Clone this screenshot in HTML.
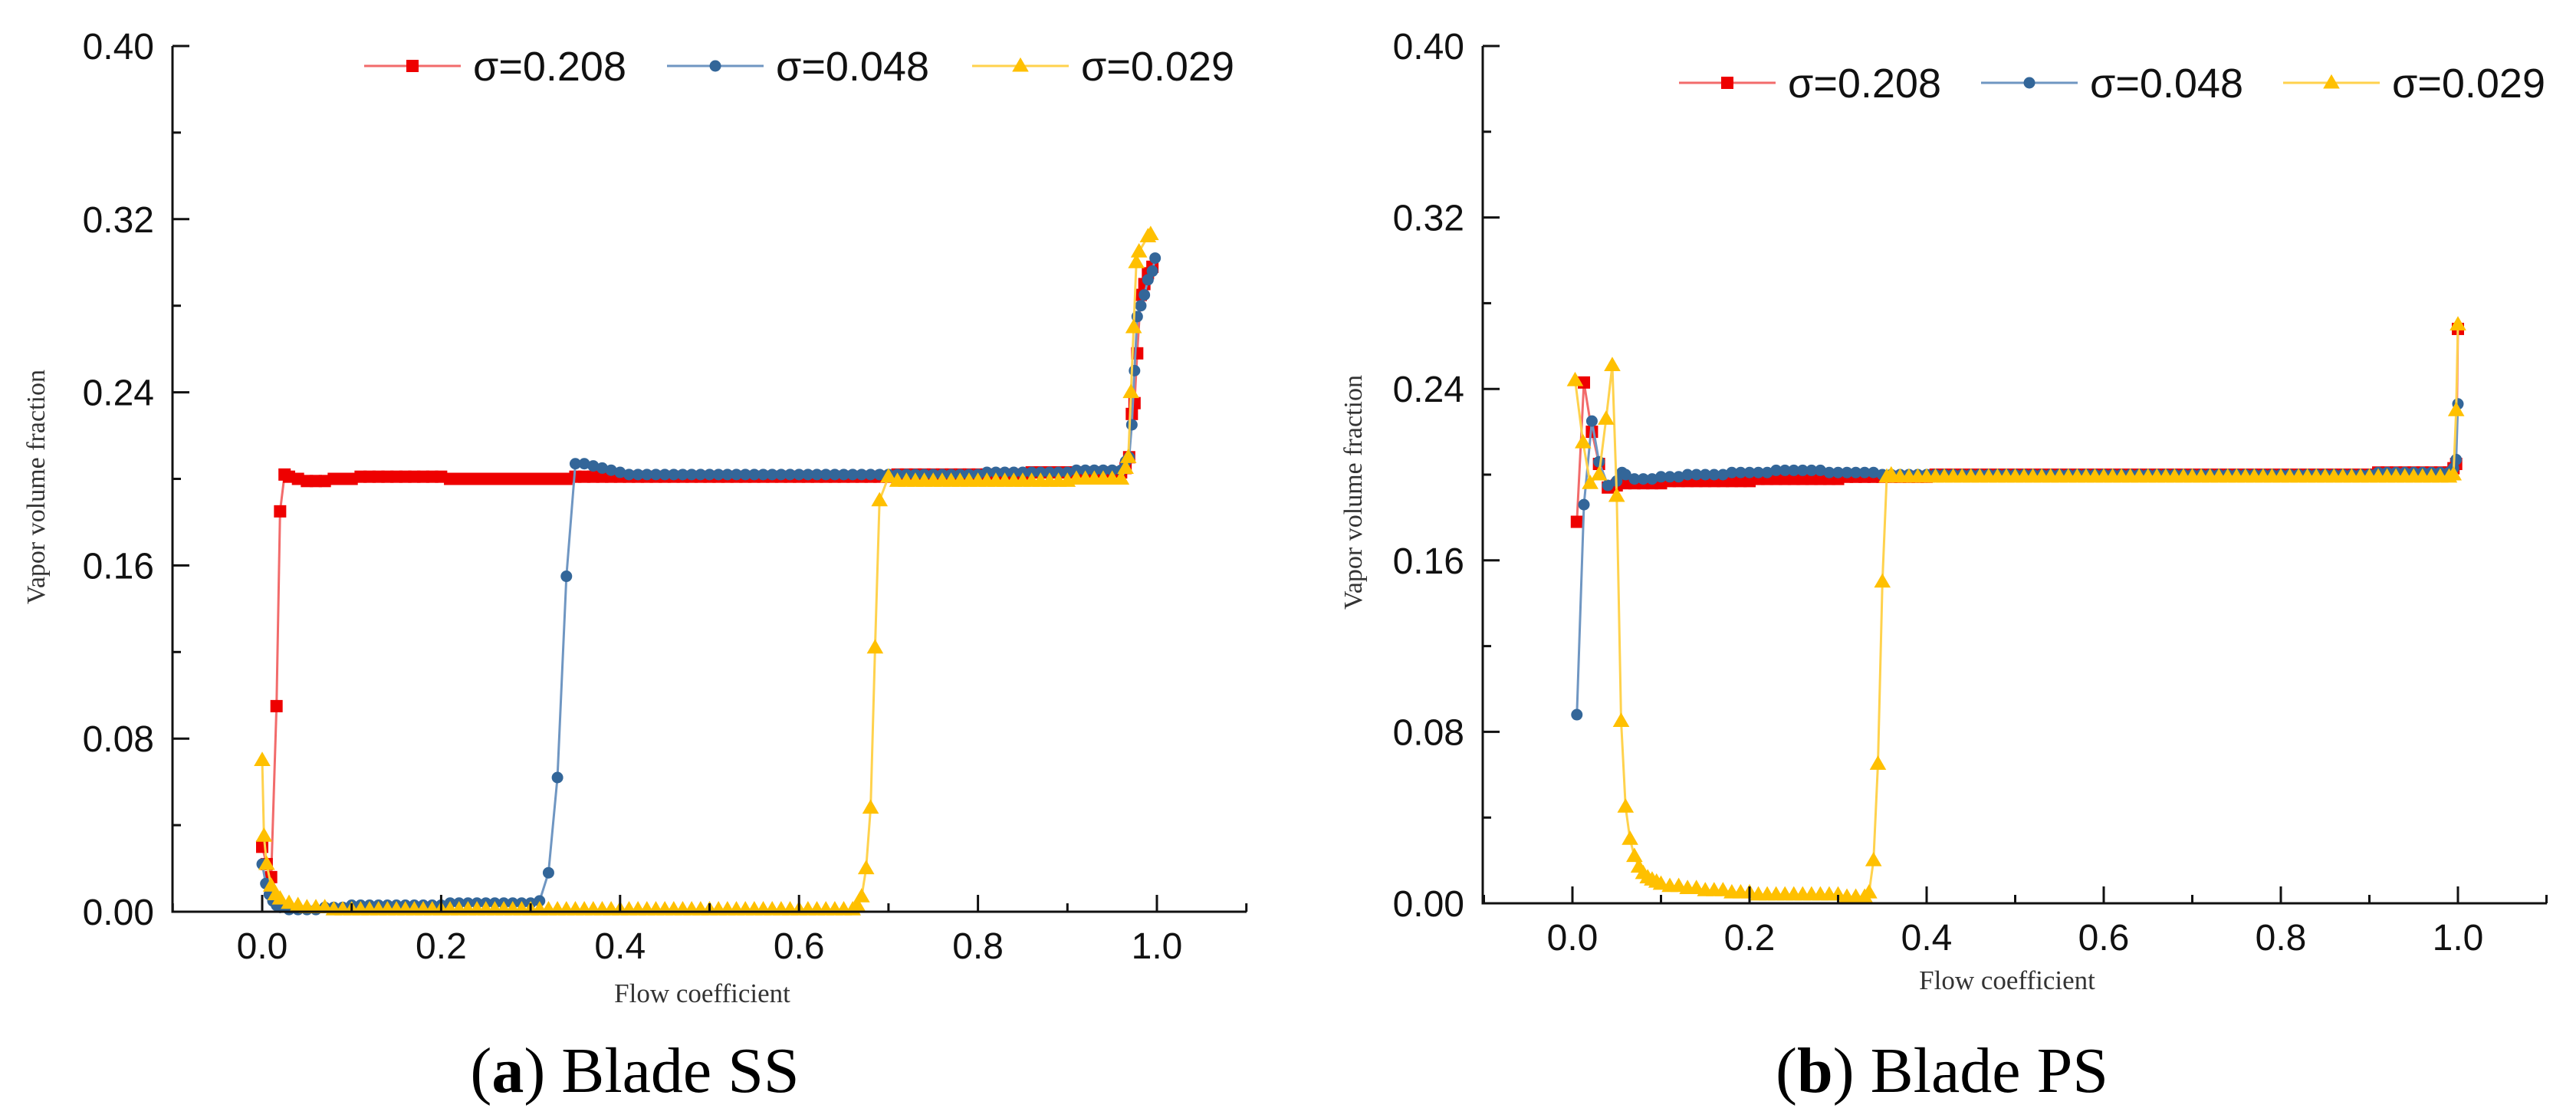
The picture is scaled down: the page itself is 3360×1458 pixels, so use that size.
<!DOCTYPE html>
<html><head><meta charset="utf-8"><style>
html,body{margin:0;padding:0;background:#fff;}
svg{display:block;}
</style></head><body>
<svg id="fig" width="3360" height="1458" viewBox="0 0 3360 1458" xmlns="http://www.w3.org/2000/svg"></svg>
<script>
// ---------- Panel (a) Blade SS data ----------
const aRedX = [0,0.005,0.01,0.016,0.02,0.025,0.03,
0.04,0.05,0.06,0.07,0.08,0.09,0.10,
0.11,0.12,0.13,0.14,0.15,0.16,0.17,0.18,0.19,0.20,
0.21,0.22,0.23,0.24,0.25,0.26,0.27,0.28,0.29,0.30,
0.31,0.32,0.33,0.34,0.35,0.36,0.37,0.38,0.39,0.40,
0.41,0.42,0.43,0.44,0.45,0.46,0.47,0.48,0.49,0.50,
0.51,0.52,0.53,0.54,0.55,0.56,0.57,0.58,0.59,0.60,
0.61,0.62,0.63,0.64,0.65,0.66,0.67,0.68,0.69,0.70,
0.71,0.72,0.73,0.74,0.75,0.76,0.77,0.78,0.79,0.80,
0.81,0.82,0.83,0.84,0.85,0.86,0.87,0.88,0.89,0.90,
0.91,0.92,0.93,0.94,0.95,0.96,
0.965,0.969,0.972,0.975,0.978,0.982,0.986,0.99,0.995];
const aRedY = [0.03,0.022,0.016,0.095,0.185,0.202,0.201,
0.200,0.199,0.199,0.199,0.200,0.200,0.200,
0.201,0.201,0.201,0.201,0.201,0.201,0.201,0.201,0.201,0.201,
0.200,0.200,0.200,0.200,0.200,0.200,0.200,0.200,0.200,0.200,
0.200,0.200,0.200,0.200,0.201,0.201,0.201,0.201,0.201,0.201,
0.201,0.201,0.201,0.201,0.201,0.201,0.201,0.201,0.201,0.201,
0.201,0.201,0.201,0.201,0.201,0.201,0.201,0.201,0.201,0.201,
0.201,0.201,0.201,0.201,0.201,0.201,0.201,0.201,0.201,0.201,
0.202,0.202,0.202,0.202,0.202,0.202,0.202,0.202,0.202,0.202,
0.202,0.202,0.202,0.202,0.202,0.203,0.203,0.203,0.203,0.203,
0.203,0.203,0.203,0.203,0.203,0.203,
0.205,0.21,0.23,0.235,0.258,0.285,0.29,0.295,0.298];

const aBlueX = [0,0.004,0.008,0.012,0.016,0.02,0.03,
0.04,0.05,0.06,0.07,0.08,0.09,0.10,
0.11,0.12,0.13,0.14,0.15,0.16,0.17,0.18,0.19,0.20,
0.21,0.22,0.23,0.24,0.25,0.26,0.27,0.28,0.29,0.30,
0.31,0.32,0.33,0.34,0.35,
0.36,0.37,0.38,0.39,0.40,
0.41,0.42,0.43,0.44,0.45,0.46,0.47,0.48,0.49,0.50,
0.51,0.52,0.53,0.54,0.55,0.56,0.57,0.58,0.59,0.60,
0.61,0.62,0.63,0.64,0.65,0.66,0.67,0.68,0.69,0.70,
0.71,0.72,0.73,0.74,0.75,0.76,0.77,0.78,0.79,0.80,
0.81,0.82,0.83,0.84,0.85,0.86,0.87,0.88,0.89,0.90,
0.91,0.92,0.93,0.94,0.95,0.96,
0.965,0.969,0.972,0.975,0.978,0.982,0.986,0.99,0.995,0.998];
const aBlueY = [0.022,0.013,0.008,0.005,0.003,0.002,0.001,
0.001,0.001,0.001,0.002,0.002,0.002,0.003,
0.003,0.003,0.003,0.003,0.003,0.003,0.003,0.003,0.003,0.003,
0.004,0.004,0.004,0.004,0.004,0.004,0.004,0.004,0.004,0.004,
0.005,0.018,0.062,0.155,0.207,
0.207,0.206,0.205,0.204,0.203,
0.202,0.202,0.202,0.202,0.202,0.202,0.202,0.202,0.202,0.202,
0.202,0.202,0.202,0.202,0.202,0.202,0.202,0.202,0.202,0.202,
0.202,0.202,0.202,0.202,0.202,0.202,0.202,0.202,0.202,0.202,
0.202,0.202,0.202,0.202,0.202,0.202,0.202,0.202,0.202,0.202,
0.203,0.203,0.203,0.203,0.203,0.203,0.203,0.203,0.203,0.203,
0.204,0.204,0.204,0.204,0.204,0.204,
0.208,0.21,0.225,0.25,0.275,0.28,0.285,0.292,0.296,0.302];

const aYelX = [0,0.002,0.005,0.01,0.015,0.02,0.03,
0.04,0.05,0.06,0.07,0.08,0.09,0.10,
0.11,0.12,0.13,0.14,0.15,0.16,0.17,0.18,0.19,0.20,
0.21,0.22,0.23,0.24,0.25,0.26,0.27,0.28,0.29,0.30,
0.31,0.32,0.33,0.34,0.35,0.36,0.37,0.38,0.39,0.40,
0.41,0.42,0.43,0.44,0.45,0.46,0.47,0.48,0.49,0.50,
0.51,0.52,0.53,0.54,0.55,0.56,0.57,0.58,0.59,0.60,
0.61,0.62,0.63,0.64,0.65,0.66,
0.665,0.67,0.675,0.68,0.685,0.69,0.70,
0.71,0.72,0.73,0.74,0.75,0.76,0.77,0.78,0.79,0.80,
0.81,0.82,0.83,0.84,0.85,0.86,0.87,0.88,0.89,0.90,
0.91,0.92,0.93,0.94,0.95,0.96,
0.965,0.968,0.971,0.974,0.977,0.98,0.99,0.993];
const aYelY = [0.07,0.035,0.022,0.012,0.008,0.006,0.004,
0.003,0.002,0.002,0.002,0.001,0.001,0.001,
0.001,0.001,0.001,0.001,0.001,0.001,0.001,0.001,0.001,0.001,
0.001,0.001,0.001,0.001,0.001,0.001,0.001,0.001,0.001,0.001,
0.001,0.001,0.001,0.001,0.001,0.001,0.001,0.001,0.001,0.001,
0.001,0.001,0.001,0.001,0.001,0.001,0.001,0.001,0.001,0.001,
0.001,0.001,0.001,0.001,0.001,0.001,0.001,0.001,0.001,0.001,
0.001,0.001,0.001,0.001,0.001,0.001,
0.003,0.007,0.02,0.048,0.122,0.19,0.201,
0.199,0.199,0.199,0.199,0.199,0.199,0.199,0.199,0.199,0.199,
0.199,0.199,0.199,0.199,0.199,0.199,0.199,0.199,0.199,0.199,
0.200,0.200,0.200,0.200,0.200,0.200,
0.205,0.21,0.24,0.27,0.3,0.305,0.312,0.313];

// ---------- Panel (b) Blade PS data ----------
const bRedX = [0.005,0.013,0.022,0.03,0.04,0.05,0.06,
0.07,0.08,0.09,0.10,
0.11,0.12,0.13,0.14,0.15,0.16,0.17,0.18,0.19,0.20,
0.21,0.22,0.23,0.24,0.25,0.26,0.27,0.28,0.29,0.30,
0.31,0.32,0.33,0.34,0.35,0.36,0.37,0.38,0.39,0.40,
0.41,0.42,0.43,0.44,0.45,0.46,0.47,0.48,0.49,0.50,
0.51,0.52,0.53,0.54,0.55,0.56,0.57,0.58,0.59,0.60,
0.61,0.62,0.63,0.64,0.65,0.66,0.67,0.68,0.69,0.70,
0.71,0.72,0.73,0.74,0.75,0.76,0.77,0.78,0.79,0.80,
0.81,0.82,0.83,0.84,0.85,0.86,0.87,0.88,0.89,0.90,
0.91,0.92,0.93,0.94,0.95,0.96,0.97,0.98,0.99,
0.995,0.998,1.0];
const bRedY = [0.178,0.243,0.22,0.205,0.194,0.195,0.196,
0.196,0.196,0.196,0.196,
0.197,0.197,0.197,0.197,0.197,0.197,0.197,0.197,0.197,0.197,
0.198,0.198,0.198,0.198,0.198,0.198,0.198,0.198,0.198,0.198,
0.199,0.199,0.199,0.199,0.199,0.199,0.199,0.199,0.199,0.199,
0.200,0.200,0.200,0.200,0.200,0.200,0.200,0.200,0.200,0.200,
0.200,0.200,0.200,0.200,0.200,0.200,0.200,0.200,0.200,0.200,
0.200,0.200,0.200,0.200,0.200,0.200,0.200,0.200,0.200,0.200,
0.200,0.200,0.200,0.200,0.200,0.200,0.200,0.200,0.200,0.200,
0.200,0.200,0.200,0.200,0.200,0.200,0.200,0.200,0.200,0.200,
0.201,0.201,0.201,0.201,0.201,0.201,0.201,0.201,0.201,
0.203,0.205,0.268];

const bBlueX = [0.005,0.013,0.022,0.03,0.04,0.05,0.056,0.06,
0.07,0.08,0.09,0.10,
0.11,0.12,0.13,0.14,0.15,0.16,0.17,0.18,0.19,0.20,
0.21,0.22,0.23,0.24,0.25,0.26,0.27,0.28,0.29,0.30,
0.31,0.32,0.33,0.34,0.35,0.36,0.37,0.38,0.39,0.40,
0.41,0.42,0.43,0.44,0.45,0.46,0.47,0.48,0.49,0.50,
0.51,0.52,0.53,0.54,0.55,0.56,0.57,0.58,0.59,0.60,
0.61,0.62,0.63,0.64,0.65,0.66,0.67,0.68,0.69,0.70,
0.71,0.72,0.73,0.74,0.75,0.76,0.77,0.78,0.79,0.80,
0.81,0.82,0.83,0.84,0.85,0.86,0.87,0.88,0.89,0.90,
0.91,0.92,0.93,0.94,0.95,0.96,0.97,0.98,0.99,
0.995,0.998,1.0];
const bBlueY = [0.088,0.186,0.225,0.206,0.195,0.197,0.201,0.2,
0.198,0.198,0.198,0.199,
0.199,0.199,0.200,0.200,0.200,0.200,0.200,0.201,0.201,0.201,
0.201,0.201,0.202,0.202,0.202,0.202,0.202,0.202,0.201,0.201,
0.201,0.201,0.201,0.201,0.200,0.200,0.200,0.200,0.200,0.200,
0.200,0.200,0.200,0.200,0.200,0.200,0.200,0.200,0.200,0.200,
0.200,0.200,0.200,0.200,0.200,0.200,0.200,0.200,0.200,0.200,
0.200,0.200,0.200,0.200,0.200,0.200,0.200,0.200,0.200,0.200,
0.200,0.200,0.200,0.200,0.200,0.200,0.200,0.200,0.200,0.200,
0.200,0.200,0.200,0.200,0.200,0.200,0.200,0.200,0.200,0.200,
0.201,0.201,0.201,0.201,0.201,0.201,0.201,0.201,0.201,
0.203,0.207,0.233];

const bYelX = [0.003,0.012,0.02,0.03,0.038,0.045,0.05,0.055,0.06,0.065,0.07,0.075,0.08,0.085,0.09,0.095,0.10,
0.11,0.12,0.13,0.14,0.15,0.16,0.17,0.18,0.19,0.20,
0.21,0.22,0.23,0.24,0.25,0.26,0.27,0.28,0.29,0.30,
0.31,0.32,0.33,
0.335,0.34,0.345,0.35,0.355,0.36,
0.37,0.38,0.39,0.40,
0.41,0.42,0.43,0.44,0.45,0.46,0.47,0.48,0.49,0.50,
0.51,0.52,0.53,0.54,0.55,0.56,0.57,0.58,0.59,0.60,
0.61,0.62,0.63,0.64,0.65,0.66,0.67,0.68,0.69,0.70,
0.71,0.72,0.73,0.74,0.75,0.76,0.77,0.78,0.79,0.80,
0.81,0.82,0.83,0.84,0.85,0.86,0.87,0.88,0.89,0.90,
0.91,0.92,0.93,0.94,0.95,0.96,0.97,0.98,0.99,
0.995,0.998,1.0];
const bYelY = [0.244,0.215,0.196,0.2,0.226,0.251,0.19,0.085,0.045,0.03,0.022,0.017,0.014,0.012,0.011,0.01,0.009,
0.008,0.008,0.007,0.007,0.006,0.006,0.006,0.005,0.005,0.005,
0.004,0.004,0.004,0.004,0.004,0.004,0.004,0.004,0.004,0.004,
0.003,0.003,0.003,
0.005,0.02,0.065,0.15,0.199,0.2,
0.199,0.199,0.199,0.199,
0.199,0.199,0.199,0.199,0.199,0.199,0.199,0.199,0.199,0.199,
0.199,0.199,0.199,0.199,0.199,0.199,0.199,0.199,0.199,0.199,
0.199,0.199,0.199,0.199,0.199,0.199,0.199,0.199,0.199,0.199,
0.199,0.199,0.199,0.199,0.199,0.199,0.199,0.199,0.199,0.199,
0.199,0.199,0.199,0.199,0.199,0.199,0.199,0.199,0.199,0.199,
0.199,0.199,0.199,0.199,0.199,0.199,0.199,0.199,0.199,
0.2,0.23,0.27];

// ---------- Axis tick labels / legend ----------
const yTickVals = [0.00,0.08,0.16,0.24,0.32,0.40];
const yTickLabels = ["0.00","0.08","0.16","0.24","0.32","0.40"];
const yMinorVals = [0.04,0.12,0.20,0.28,0.36];
const xTickVals = [0.0,0.2,0.4,0.6,0.8,1.0];
const xTickLabels = ["0.0","0.2","0.4","0.6","0.8","1.0"];
const xMinorVals = [-0.1,0.1,0.3,0.5,0.7,0.9,1.1];
const legendLabels = ["σ=0.208","σ=0.048","σ=0.029"];

const NS = "http://www.w3.org/2000/svg";
const svg = document.getElementById('fig');
function mk(tag, attrs, parent){
  const e = document.createElementNS(NS, tag);
  for (const k in attrs) e.setAttribute(k, attrs[k]);
  (parent||svg).appendChild(e);
  return e;
}
const STY = [
  {line:'#f26b6b', fill:'#ee0000', shape:'sq', size:16},
  {line:'#6f96c2', fill:'#336699', shape:'ci', size:15},
  {line:'#ffd24d', fill:'#ffc000', shape:'tr', size:18}
];
function marker(g, shape, cx, cy, color, s){
  let e;
  if (shape==='sq') e = mk('rect',{x:cx-s/2,y:cy-s/2,width:s,height:s,fill:color},g);
  else if (shape==='ci') e = mk('circle',{cx:cx,cy:cy,r:s/2,fill:color},g);
  else e = mk('polygon',{points:`${cx},${cy-s*0.62} ${cx-s*0.6},${cy+s*0.42} ${cx+s*0.6},${cy+s*0.42}`,fill:color},g);
  return e;
}

function panel(id, cfg, series){
  const g = mk('g',{});
  
  
  const X = v => cfg.x0 + (cfg.x1-cfg.x0)*v;
  const Y = v => cfg.y0 - (cfg.y0-cfg.yTop)*(v/0.40);

  series.forEach((s,i)=>{
    const st = STY[i];
    const sg = mk('g',{},g);
    
    
    const pts = s.x.map((xv,j)=>X(xv).toFixed(1)+','+Y(s.y[j]).toFixed(1)).join(' ');
    const pl = mk('polyline',{points:pts,fill:'none',stroke:st.line,'stroke-width':3},sg);
    
    
    s.x.forEach((xv,j)=>{
      const m = marker(sg, st.shape, X(xv), Y(s.y[j]), st.fill, st.size);
      
      
    });
  });

  const ax = mk('g',{stroke:'#111','stroke-width':3,fill:'none'},g);
  
  
  mk('line',{x1:cfg.axL,y1:cfg.yTop,x2:cfg.axL,y2:cfg.y0+1.5},ax);
  mk('line',{x1:cfg.axL,y1:cfg.y0,x2:cfg.axR,y2:cfg.y0},ax);
  yTickVals.forEach(v=>mk('line',{x1:cfg.axL,y1:Y(v),x2:cfg.axL+22,y2:Y(v)},ax));
  yMinorVals.forEach(v=>mk('line',{x1:cfg.axL,y1:Y(v),x2:cfg.axL+11,y2:Y(v)},ax));
  xTickVals.forEach(v=>mk('line',{x1:X(v),y1:cfg.y0,x2:X(v),y2:cfg.y0-22},ax));
  xMinorVals.forEach(v=>mk('line',{x1:X(v),y1:cfg.y0,x2:X(v),y2:cfg.y0-11},ax));

  const tf = '"Liberation Sans", Arial, sans-serif';
  yTickVals.forEach((v,i)=>{
    const t = mk('text',{x:cfg.axL-24,y:Y(v)+17,'text-anchor':'end','font-family':tf,'font-size':48,fill:'#111'},g);
    t.textContent = yTickLabels[i];
    
    
  });
  xTickVals.forEach((v,i)=>{
    const t = mk('text',{x:X(v),y:cfg.y0+61,'text-anchor':'middle','font-family':tf,'font-size':48,fill:'#111'},g);
    t.textContent = xTickLabels[i];
    
    
  });
  const sf = '"Liberation Serif", "Times New Roman", serif';
  const yt = mk('text',{x:0,y:0,'text-anchor':'middle','font-family':sf,'font-size':34,fill:'#333',
    transform:`translate(${cfg.yTitleX},${cfg.yTitleY}) rotate(-90)`},g);
  yt.textContent = 'Vapor volume fraction';
  
  
  const xt = mk('text',{x:cfg.xTitleX,y:cfg.xTitleY,'text-anchor':'middle','font-family':sf,'font-size':35,fill:'#333'},g);
  xt.textContent = 'Flow coefficient';
  
  

  const lg = mk('g',{},g);
  
  
  legendLabels.forEach((lab,i)=>{
    const st = STY[i];
    const le = mk('g',{},lg);
    
    
    const lx = cfg.legX[i];
    mk('line',{x1:lx,y1:cfg.legY,x2:lx+126,y2:cfg.legY,stroke:st.line,'stroke-width':3},le);
    marker(le, st.shape, lx+63, cfg.legY, st.fill, st.size);
    const t = mk('text',{x:lx+142,y:cfg.legY+19,'font-family':tf,'font-size':54,fill:'#111'},le);
    t.textContent = lab;
  });

  const cap = mk('text',{x:cfg.capX,y:cfg.capY,'text-anchor':'middle','font-family':sf,'font-size':84,fill:'#000'},g);
  
  
  const t1 = mk('tspan',{},cap); t1.textContent='(';
  const t2 = mk('tspan',{'font-weight':'bold'},cap); t2.textContent=cfg.capLetter;
  const t3 = mk('tspan',{},cap); t3.textContent=') '+cfg.capText;
}

panel('panel-a',{x0:342,x1:1509,y0:1189,yTop:60,axL:225,axR:1626,
  yTitleX:58,yTitleY:635,xTitleX:916,xTitleY:1307,
  legX:[475,870,1268],legY:86,capX:828,capY:1424,capLetter:'a',capText:'Blade SS'},
  [{x:aRedX,y:aRedY},{x:aBlueX,y:aBlueY},{x:aYelX,y:aYelY}]);
panel('panel-b',{x0:2051,x1:3206,y0:1178,yTop:60,axL:1934,axR:3322,
  yTitleX:1776,yTitleY:642,xTitleX:2618,xTitleY:1290,
  legX:[2190,2584,2978],legY:108,capX:2533,capY:1424,capLetter:'b',capText:'Blade PS'},
  [{x:bRedX,y:bRedY},{x:bBlueX,y:bBlueY},{x:bYelX,y:bYelY}]);
</script>
</body></html>
